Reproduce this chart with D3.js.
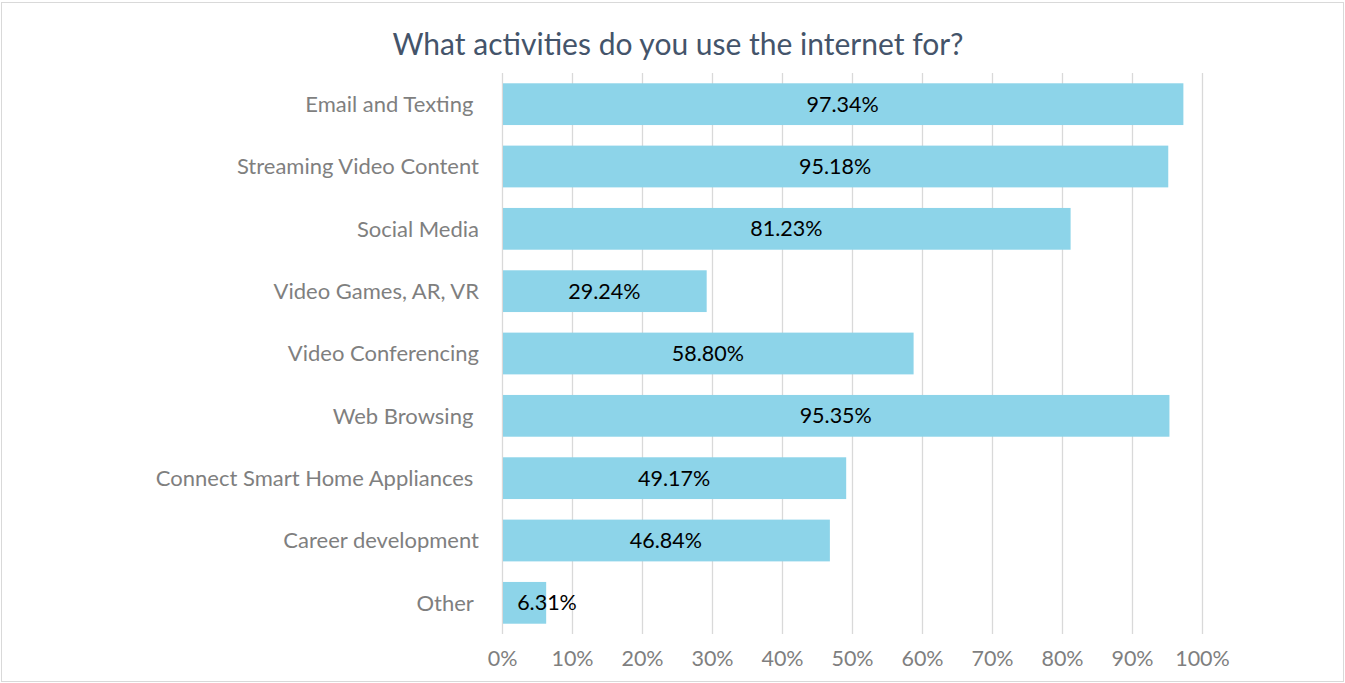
<!DOCTYPE html>
<html><head><meta charset="utf-8">
<script src="https://cdn.jsdelivr.net/npm/d3@7"></script>
<style>
html,body{margin:0;padding:0;background:#fff;}
svg text{white-space:pre;}
</style></head>
<body>
<svg id="chart" width="1345" height="683"></svg>
<script>
const categories = ["Email and Texting ", "Streaming Video Content", "Social Media", "Video Games, AR, VR", "Video Conferencing", "Web Browsing ", "Connect Smart Home Appliances ", "Career development", "Other "];
const values = [97.34, 95.18, 81.23, 29.24, 58.80, 95.35, 49.17, 46.84, 6.31];
const tickValues = [0, 10, 20, 30, 40, 50, 60, 70, 80, 90, 100];
const title = "What activities do you use the internet for?";

const svg = d3.select("#chart");
const font = "Lato, sans-serif";
const W = 1345, H = 683;

svg.append("rect").attr("x", 1.5).attr("y", 2.5).attr("width", W - 3).attr("height", H - 4)
  .attr("fill", "#fff").attr("stroke", "#d9d9d9").attr("stroke-width", 1);

const x = d3.scaleLinear().domain([0, 100]).range([502, 1202]);
const y = d3.scaleBand().domain(categories).range([73, 634]).paddingInner(0.33).paddingOuter(0.165);

svg.append("text").attr("x", 678).attr("y", 55).attr("text-anchor", "middle")
  .attr("font-family", font).attr("font-size", 30).attr("fill", "#44546A").text(title);

// gridlines
svg.append("g").selectAll("line").data(tickValues).join("line")
  .attr("x1", d => x(d) + 0.5).attr("x2", d => x(d) + 0.5)
  .attr("y1", 73).attr("y2", 634)
  .attr("stroke", "#d9d9d9").attr("stroke-width", 1.3);

// x axis labels
const xAxis = d3.axisBottom(x).tickValues(tickValues).tickFormat(d => d + "%").tickSize(0).tickPadding(0);
const gx = svg.append("g").attr("transform", "translate(0,651)").call(xAxis);
gx.select(".domain").remove();
gx.selectAll("text").attr("font-family", font).attr("font-size", 21.5).attr("fill", "#7f7f7f").attr("dy", "0.71em");

// y axis labels
const yAxis = d3.axisLeft(y).tickSize(0).tickPadding(0);
const gy = svg.append("g").attr("transform", "translate(479,0)").call(yAxis);
gy.select(".domain").remove();
gy.selectAll("text").attr("font-family", font).attr("font-size", 22).attr("fill", "#7f7f7f").attr("dy", "0.35em");

const data = categories.map((c, i) => ({c, v: values[i]}));
svg.append("g").selectAll("rect").data(data).join("rect")
  .attr("x", x(0) + 1).attr("y", d => y(d.c))
  .attr("width", d => x(d.v) - x(0) - 1).attr("height", y.bandwidth())
  .attr("fill", "#8DD4E9");

svg.append("g").selectAll("text").data(data).join("text")
  .attr("x", d => Math.max((x(0) + x(d.v)) / 2, x(0) + 45))
  .attr("y", d => y(d.c) + y.bandwidth() / 2)
  .attr("dy", "0.35em").attr("text-anchor", "middle")
  .attr("font-family", font).attr("font-size", 21.5).attr("fill", "#000")
  .text(d => d.v.toFixed(2) + "%");
</script>
</body></html>
